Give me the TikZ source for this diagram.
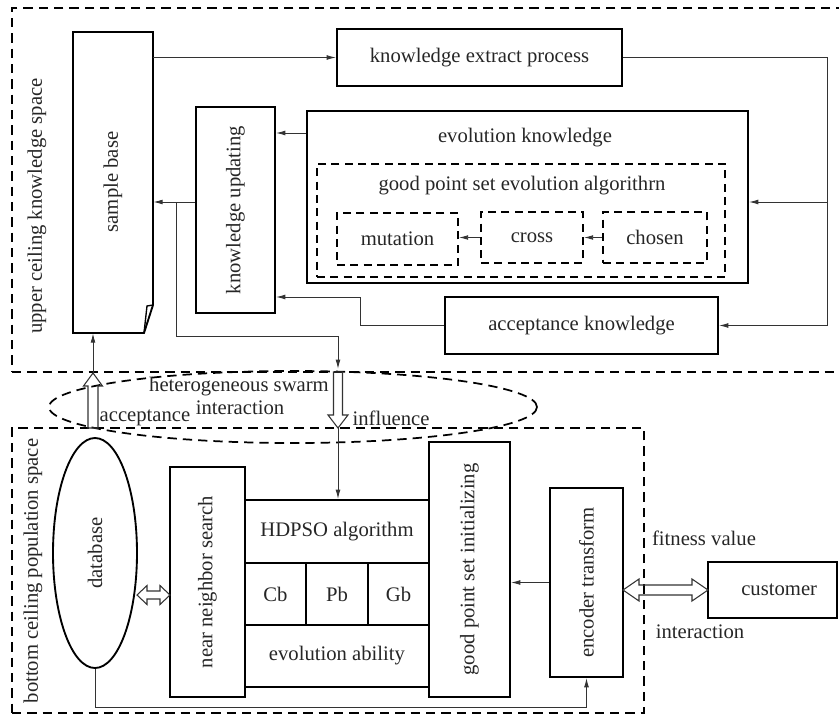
\documentclass[tikz,border=0pt]{standalone}
\usepackage{fontspec}
\setmainfont{Liberation Serif}
\usetikzlibrary{arrows.meta,fit,calc,shapes.geometric}
\begin{document}
\begin{tikzpicture}[x=0.75pt,y=-0.75pt,
  box/.style={draw, line width=1.4pt, inner sep=0pt},
  dbox/.style={draw, line width=1.3pt, dash pattern=on 6pt off 4pt, inner sep=0pt},
  txt/.style={font=\fontsize{15.5pt}{18pt}\selectfont, text=black!85, inner sep=0pt},
  conn/.style={line width=0.7pt, draw=black!80},
  arr/.style={conn, -{Latex[length=7pt,width=3.6pt]}},
  hollow/.style={line width=0.8pt, draw=black!80, line join=miter},
  frame/.style={draw, line width=1.4pt, dash pattern=on 7pt off 4.5pt, inner sep=0pt}]

\useasboundingbox (0,0) rectangle (839,715);

% ---------- frames ----------
\node[frame, fit={(12,8)(860,372)}] (upper) {};
\node[frame, fit={(12,428)(644,713)}] (lower) {};
\node[txt, rotate=90] (lup) at (37,206) {upper ceiling knowledge space};
\node[txt, rotate=90] (lbot) at (33,571) {bottom ceiling population space};

% ---------- upper space ----------
\node[inner sep=0pt, fit={(73,32)(153,333)}] (sb) {};
\draw[line width=1.4pt] (73,32) -- (153,32) -- (153,305) -- (144,333) -- (73,333) -- cycle;
\draw[line width=1pt] (153,305) -- (147,306) -- (144,333);
\node[txt, rotate=90] (sbt) at (113,182) {sample base};

\node[box, fit={(337,29)(622,86)}, label={[txt]center:knowledge extract process}] (kep) {};
\node[box, fit={(196,107)(275,313)}] (ku) {};
\node[txt, rotate=90] (kut) at (ku.center) {knowledge updating};

\node[box, fit={(307,111)(748,283)}] (ek) {};
\node[txt] (ekt) at (525,138) {evolution knowledge};
\node[dbox, fit={(317,164)(725,277)}] (gps) {};
\node[txt] (gpst) at (522,186) {good point set evolution algorithrn};
\node[dbox, fit={(337,213)(458,265)}, label={[txt]center:mutation}] (mut) {};
\node[dbox, fit={(481,212)(583,263)}, label={[txt]center:cross}] (cro) {};
\node[dbox, fit={(603,212)(707,263)}, label={[txt]center:chosen}] (cho) {};

\node[box, fit={(445,297)(718,354)}, label={[txt]center:acceptance knowledge}] (ak) {};

% ---------- interaction ellipse ----------
\node[ellipse, draw, line width=1.3pt, dash pattern=on 7pt off 4.5pt, inner sep=0pt,
      minimum width=366pt, minimum height=54pt] (hsi) at (293,407) {};
\node[txt] (lhs) at (239,387) {heterogeneous swarm};
\node[txt] (lint) at (240,408) {interaction};
\node[txt] (lacc) at (145,418) {acceptance};
\node[txt] (linf) at (391,418) {influence};

% ---------- lower space ----------
\node[ellipse, draw, line width=1.4pt, inner sep=0pt,
      minimum width=63pt, minimum height=172.5pt] (db) at (95,553) {};
\node[txt, rotate=90] (dbt) at (db.center) {database};
\node[box, fit={(170,467)(245,697)}] (nns) {};
\node[txt, rotate=90] (nnst) at (nns.center) {near neighbor search};

\node[box, fit={(245,500)(429,563)}, label={[txt]center:HDPSO algorithm}] (hda) {};
\node[box, fit={(245,563)(306,625)}, label={[txt]center:Cb}] (cb) {};
\node[box, fit={(306,563)(368,625)}, label={[txt]center:Pb}] (pb) {};
\node[box, fit={(368,563)(429,625)}, label={[txt]center:Gb}] (gb) {};
\node[box, fit={(245,625)(429,687)}, label={[txt]center:evolution ability}] (hdb) {};

\node[box, fit={(429,442)(510,697)}] (gpi) {};
\node[txt, rotate=90] (gpit) at (gpi.center) {good point set initializing};
\node[box, fit={(550,488)(623,677)}] (enc) {};
\node[txt, rotate=90] (enct) at (enc.center) {encoder transform};
\node[box, fit={(708,562)(837,618)}, label={[txt,xshift=5pt]center:customer}] (cust) {};
\node[txt] (lfit) at (704,538) {fitness value};
\node[txt] (lint2) at (700,632) {interaction};

% ---------- connectors (upper) ----------
\draw[arr] (sb.east |- kep.west) -- (kep.west);
\draw[arr] (kep.east) -- (827,57.5) -- (827,325.5) -- (ak.east);
\draw[arr] (827,202) -- (ek.east |- 0,202);
\draw[arr] (ek.west |- 0,133) -- (ku.east |- 0,133);
\coordinate (j1) at (176,202);
\draw[arr] (ku.west |- j1) -- (sb.east |- j1);
\draw[arr] (ak.west) -- (360,325.5) -- (360,297) -- (ku.east |- 0,297);
\draw[arr] (cho.west) -- (cro.east);
\draw[arr] (cro.west) -- (mut.east |- cro.west);
\draw[arr] (j1) -- (176,336) -- (338,336) -- (338,369);
\draw[arr] (338,428) -- (hda.north -| 338,0);
\draw[arr] (93,373) -- (sb.south -| 93,0);

% ---------- hollow arrows ----------
\draw[hollow] (88,428) -- (88,386) -- (83.5,386) -- (93,373) -- (102.5,386) -- (98,386) -- (98,428) -- cycle;
\draw[hollow] (333.5,372) -- (333.5,415) -- (328,415) -- (338,428) -- (348,415) -- (342.5,415) -- (342.5,372) -- cycle;
\draw[hollow] (137,595) -- (147,585.5) -- (147,591) -- (160,591) -- (160,585.5) -- (170,595) -- (160,604.5) -- (160,599) -- (147,599) -- (147,604.5) -- cycle;
\draw[hollow] (623,590) -- (639,579) -- (639,585) -- (692,585) -- (692,579) -- (708,590) -- (692,601) -- (692,595) -- (639,595) -- (639,601) -- cycle;

% ---------- connectors (lower) ----------
\draw[arr] (enc.west) -- (gpi.east |- enc.west);
\draw[arr] (db.south) -- (95,707) -- (586.5,707) -- (enc.south);

\end{tikzpicture}
\end{document}
